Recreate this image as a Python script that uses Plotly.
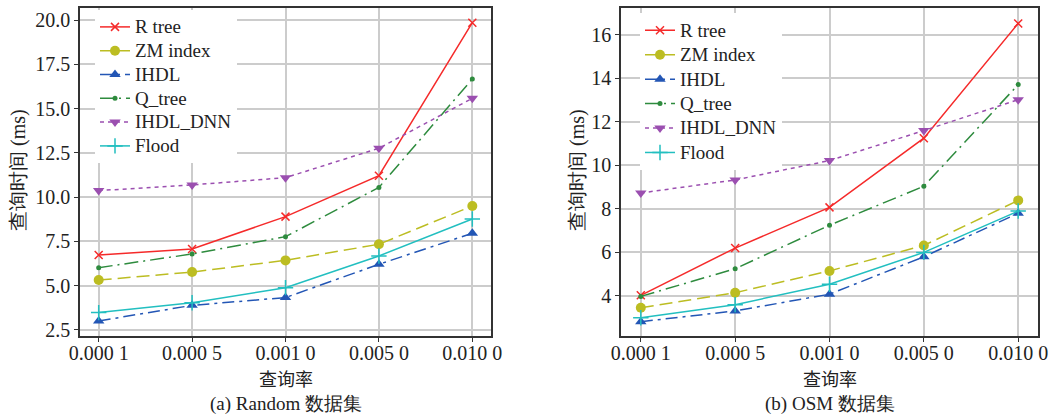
import plotly.graph_objects as go

categories = ["0.000 1", "0.000 5", "0.001 0", "0.005 0", "0.010 0"]
series_names = ["R tree", "ZM index", "IHDL", "Q_tree", "IHDL_DNN", "Flood"]

random_rtree = [6.73, 7.07, 8.90, 11.21, 19.85]
random_zm = [5.32, 5.77, 6.43, 7.34, 9.50]
random_ihdl = [3.01, 3.89, 4.33, 6.21, 7.96]
random_qtree = [6.02, 6.79, 7.77, 10.55, 16.67]
random_dnn = [10.37, 10.69, 11.10, 12.76, 15.58]
random_flood = [3.48, 4.04, 4.89, 6.68, 8.77]

osm_rtree = [4.03, 6.20, 8.07, 11.25, 16.52]
osm_zm = [3.46, 4.15, 5.15, 6.32, 8.39]
osm_ihdl = [2.82, 3.31, 4.08, 5.80, 7.80]
osm_qtree = [3.98, 5.25, 7.25, 9.04, 13.71]
osm_dnn = [8.73, 9.33, 10.22, 11.60, 13.02]
osm_flood = [3.00, 3.60, 4.54, 6.00, 7.90]

random_yticks = [2.5, 5.0, 7.5, 10.0, 12.5, 15.0, 17.5, 20.0]
osm_yticks = [4, 6, 8, 10, 12, 14, 16]

W, H = 1052, 417
FONT = "'Liberation Serif', 'Tinos', 'Times New Roman', 'DejaVu Serif', serif"
CJK = "'Noto Sans CJK SC', 'Liberation Serif', sans-serif"

styles = [
    dict(color="#f52a2a", dash="solid", symbol="x-thin", size=8, lw=1.5),
    dict(color="#bcbd22", dash="13px,6px", symbol="circle", size=10, lw=1.5),
    dict(color="#2356b5", dash="12px,5px,3px,5px", symbol="triangle-up", size=10, lw=1.5),
    dict(color="#2e8b3e", dash="14px,5px,2px,5px", symbol="circle", size=5, lw=1.5),
    dict(color="#9b4fb0", dash="4px,4px", symbol="triangle-down", size=10, lw=1.5),
    dict(color="#22bfc0", dash="solid", symbol="cross-thin", size=11, lw=1.5),
]

random_data = [random_rtree, random_zm, random_ihdl, random_qtree, random_dnn, random_flood]
osm_data = [osm_rtree, osm_zm, osm_ihdl, osm_qtree, osm_dnn, osm_flood]
xs = list(range(len(categories)))

fig = go.Figure()

def add_series(data, xaxis, yaxis, legend):
    for name, vals, st in zip(series_names, data, styles):
        marker = dict(symbol=st["symbol"], size=st["size"], color=st["color"])
        if st["symbol"].endswith("-thin"):
            marker["line"] = dict(color=st["color"], width=1.5)
        fig.add_trace(go.Scatter(
            x=xs, y=vals, name=f'<span style="font-size:19px">{name}</span>',
            mode="lines+markers",
            line=dict(color=st["color"], width=st["lw"], dash=st["dash"]),
            marker=marker, xaxis=xaxis, yaxis=yaxis, legend=legend,
        ))

add_series(random_data, "x", "y", "legend")
add_series(osm_data, "x2", "y2", "legend2")

L1, R1 = 80 / W, 491 / W
L2, R2 = 621 / W, 1038 / W
B, T = (H - 336) / H, (H - 8) / H

axis_common = dict(
    showline=True, linecolor="#333333", linewidth=1.5, mirror=True,
    showgrid=True, gridcolor="#cccccc", gridwidth=1.5,
    ticks="outside", ticklen=4, tickwidth=1.2, tickcolor="#333333",
    tickfont=dict(family=FONT, size=20, color="#222222"), zeroline=False,
    automargin=False,
)

fig.update_layout(
    width=W, height=H, margin=dict(l=0, r=0, t=0, b=0, autoexpand=False),
    paper_bgcolor="white", plot_bgcolor="white",
    xaxis=dict(domain=[L1, R1], anchor="y", range=[-0.2, 4.2], ticklabelstandoff=-6,
               tickvals=xs, ticktext=categories, **axis_common),
    yaxis=dict(domain=[B, T], anchor="x", range=[2.16, 20.68],
               tickvals=random_yticks, ticktext=[f"{v:.1f}" for v in random_yticks], **axis_common),
    xaxis2=dict(domain=[L2, R2], anchor="y2", range=[-0.21, 4.21], ticklabelstandoff=-6,
                tickvals=xs, ticktext=categories, **axis_common),
    yaxis2=dict(domain=[B, T], anchor="x2", range=[2.16, 17.23],
                tickvals=osm_yticks, **axis_common),
    legend=dict(x=95 / W, y=(H - 10) / H, xanchor="left", yanchor="top",
                bgcolor="white", borderwidth=0, itemwidth=30,
                font=dict(family=FONT, size=16, color="#222222"), tracegroupgap=0),
    legend2=dict(x=640 / W, y=(H - 13) / H, xanchor="left", yanchor="top",
                 bgcolor="white", borderwidth=0, itemwidth=30,
                 font=dict(family=FONT, size=16.5, color="#222222"), tracegroupgap=0),
    showlegend=True,
)

ann_font = dict(family=FONT, size=19, color="#222222")
annotations = [
    dict(text="查询率", x=(80 + 491) / 2 / W, y=(H - 378) / H, xref="paper", yref="paper",
         showarrow=False, font=dict(family=CJK, size=18, color="#222222"), xanchor="center", yanchor="middle"),
    dict(text="查询率", x=(621 + 1038) / 2 / W, y=(H - 378) / H, xref="paper", yref="paper",
         showarrow=False, font=dict(family=CJK, size=18, color="#222222"), xanchor="center", yanchor="middle"),
    dict(text="(a) Random 数据集", x=(80 + 491) / 2 / W, y=(H - 404) / H, xref="paper", yref="paper",
         showarrow=False, font=ann_font, xanchor="center", yanchor="middle"),
    dict(text="(b) OSM 数据集", x=(621 + 1038) / 2 / W, y=(H - 404) / H, xref="paper", yref="paper",
         showarrow=False, font=ann_font, xanchor="center", yanchor="middle"),
    dict(text="查询时间 (ms)", x=18 / W, y=(H - 170) / H, xref="paper", yref="paper", textangle=-90,
         showarrow=False, font=dict(family=FONT, size=20, color="#222222"), xanchor="center", yanchor="middle"),
    dict(text="查询时间 (ms)", x=577 / W, y=(H - 170) / H, xref="paper", yref="paper", textangle=-90,
         showarrow=False, font=dict(family=FONT, size=20, color="#222222"), xanchor="center", yanchor="middle"),
]
fig.update_layout(annotations=annotations)

fig.write_html("out.html", config={"displayModeBar": False},
               post_script="document.body.style.margin='0';document.body.style.overflow='hidden';")
